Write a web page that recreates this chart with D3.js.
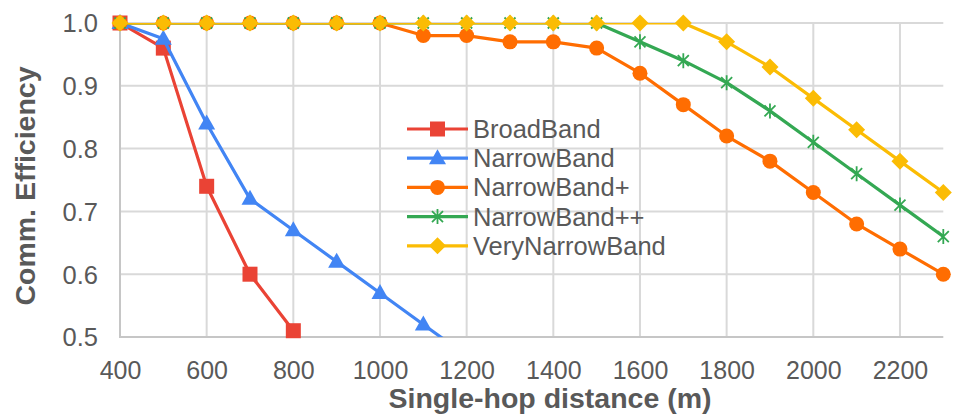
<!DOCTYPE html>
<html><head><meta charset="utf-8">
<script src="https://cdn.jsdelivr.net/npm/d3@7"></script>
<style>body{margin:0;background:#fff;} svg{display:block;font-family:"Liberation Sans",Arial,sans-serif;}</style>
</head><body>
<svg id="chart" width="956" height="419"></svg>
<script>
const distances = [400,500,600,700,800,900,1000,1100,1200,1300,1400,1500,1600,1700,1800,1900,2000,2100,2200,2300];
const broadBand = [1.0,0.96,0.74,0.60,0.51];
const narrowBand = [1.0,0.975,0.84,0.72,0.67,0.62,0.57,0.52,0.47];
const narrowBandPlus = [1,1,1,1,1,1,1,0.98,0.98,0.97,0.97,0.96,0.92,0.87,0.82,0.78,0.73,0.68,0.64,0.60];
const narrowBandPP = [1,1,1,1,1,1,1,1,1,1,1,1,0.97,0.94,0.905,0.86,0.81,0.76,0.71,0.66];
const veryNarrowBand = [1,1,1,1,1,1,1,1,1,1,1,1,1,1,0.97,0.93,0.88,0.83,0.78,0.73];
const xTicks = [400,600,800,1000,1200,1400,1600,1800,2000,2200];
const yTicks = [0.5,0.6,0.7,0.8,0.9,1.0];
const seriesNames = ["BroadBand","NarrowBand","NarrowBand+","NarrowBand++","VeryNarrowBand"];
const seriesColors = ["#EA4335","#4285F4","#FF6D01","#34A853","#FBBC04"];
const seriesShapes = ["square","triangle","circle","asterisk","diamond"];
const seriesValues = [broadBand,narrowBand,narrowBandPlus,narrowBandPP,veryNarrowBand];

const svg = d3.select("#chart");
const x = d3.scaleLinear().domain([400,2300]).range([120,943.3]);
const y = d3.scaleLinear().domain([0.5,1.0]).range([337,23]);
const grey = "#595959";

svg.append("defs").append("clipPath").attr("id","plot")
  .append("rect").attr("x",120).attr("y",23).attr("width",823.3).attr("height",314);

// gridlines
const g = svg.append("g");
g.selectAll(".vg").data(xTicks.filter(d=>d>400)).join("line")
  .attr("x1",d=>x(d)).attr("x2",d=>x(d)).attr("y1",y(1)).attr("y2",y(0.5))
  .attr("stroke","#d9d9d9").attr("stroke-width",2);
g.selectAll(".hg").data(yTicks.filter(d=>d>0.5)).join("line")
  .attr("x1",x(400)).attr("x2",x(2300)).attr("y1",d=>y(d)).attr("y2",d=>y(d))
  .attr("stroke","#d9d9d9").attr("stroke-width",2);
// axes lines
g.append("line").attr("x1",x(400)).attr("x2",x(400)).attr("y1",y(1)).attr("y2",y(0.5)+1)
  .attr("stroke","#c6c6c6").attr("stroke-width",2);
g.append("line").attr("x1",x(400)).attr("x2",x(2300)).attr("y1",y(0.5)).attr("y2",y(0.5))
  .attr("stroke","#c6c6c6").attr("stroke-width",2);

// tick labels via axes
const xAxis = d3.axisBottom(x).tickValues(xTicks).tickSize(0).tickFormat(d3.format("d"));
const xa = svg.append("g").attr("transform",`translate(0,${y(0.5)})`).call(xAxis);
xa.select(".domain").remove();
xa.selectAll("text").attr("fill",grey).attr("font-size",25).attr("dy",0).attr("y",42)
  .attr("font-family","'Liberation Sans',Arial,sans-serif");
const yAxis = d3.axisLeft(y).tickValues(yTicks).tickSize(0).tickFormat(d3.format(".1f"));
const ya = svg.append("g").attr("transform",`translate(${x(400)},0)`).call(yAxis);
ya.select(".domain").remove();
ya.selectAll("text").attr("fill",grey).attr("font-size",25.5).attr("x",-22).attr("dy","0.35em")
  .attr("font-family","'Liberation Sans',Arial,sans-serif");

// titles
svg.append("text").attr("x",550).attr("y",408).attr("text-anchor","middle")
  .attr("font-size",28.5).attr("font-weight","bold").attr("fill",grey).text("Single-hop distance (m)");
svg.append("text").attr("transform","translate(35,186) rotate(-90)").attr("text-anchor","middle")
  .attr("font-size",28.5).attr("font-weight","bold").attr("fill",grey).text("Comm. Efficiency");

function drawMarker(sel, shape, color, cx, cy){
  if(shape==="square"){
    sel.append("rect").attr("x",cx-7.5).attr("y",cy-7.5).attr("width",15).attr("height",15).attr("fill",color);
  } else if(shape==="circle"){
    sel.append("circle").attr("cx",cx).attr("cy",cy).attr("r",7.5).attr("fill",color);
  } else if(shape==="triangle"){
    sel.append("path").attr("d",`M${cx},${cy-9}L${cx+8.5},${cy+6}L${cx-8.5},${cy+6}Z`).attr("fill",color);
  } else if(shape==="diamond"){
    sel.append("path").attr("d",`M${cx},${cy-8.5}L${cx+8.5},${cy}L${cx},${cy+8.5}L${cx-8.5},${cy}Z`).attr("fill",color);
  } else if(shape==="asterisk"){
    const r=7.5, d=5.5;
    sel.append("path").attr("d",`M${cx},${cy-r}L${cx},${cy+r}M${cx-d},${cy-d}L${cx+d},${cy+d}M${cx-d},${cy+d}L${cx+d},${cy-d}`)
      .attr("stroke",color).attr("stroke-width",1.8).attr("fill","none");
  }
}

const line = d3.line().x(d=>x(d[0])).y(d=>y(d[1]));
seriesValues.forEach((vals,i)=>{
  const pts = vals.map((v,j)=>[distances[j],v]);
  const sg = svg.append("g");
  sg.append("path").attr("d",line(pts)).attr("fill","none").attr("stroke",seriesColors[i])
    .attr("stroke-width",3.2).attr("stroke-linejoin","round").attr("clip-path","url(#plot)");
  pts.filter(p=>p[1]>=0.5).forEach(p=>drawMarker(sg,seriesShapes[i],seriesColors[i],x(p[0]),y(p[1])));
});

// legend
const lg = svg.append("g");
seriesNames.forEach((name,i)=>{
  const ly = 129 + i*29.2;
  lg.append("line").attr("x1",407).attr("x2",468).attr("y1",ly).attr("y2",ly)
    .attr("stroke",seriesColors[i]).attr("stroke-width",3.2);
  drawMarker(lg,seriesShapes[i],seriesColors[i],437.5,ly);
  lg.append("text").attr("x",473).attr("y",ly).attr("dy","0.35em").attr("font-size",25.5)
    .attr("fill",grey).text(name);
});
</script>
</body></html>
